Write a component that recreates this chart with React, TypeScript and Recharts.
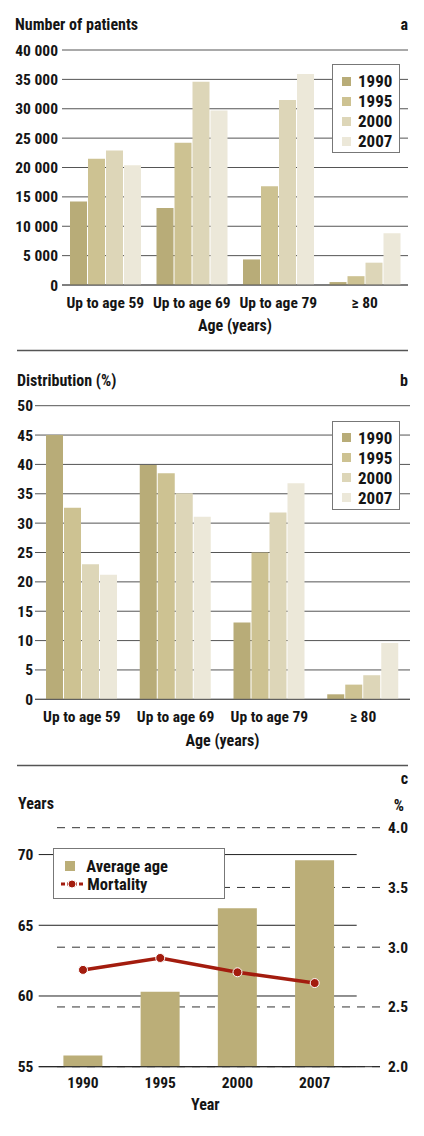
import React from 'react'
import {
  BarChart, Bar, ComposedChart, Line, XAxis, YAxis, CartesianGrid, Legend,
} from 'recharts'

// panel a/b categories
const ageGroups = ['Up to age 59', 'Up to age 69', 'Up to age 79', '≥ 80']
const years = ['1990', '1995', '2000', '2007']
const yearColors = ['#b8ac78', '#cdc292', '#ddd6b8', '#ece8d9']

// a: number of patients
const patients1990 = [14200, 13100, 4350, 500]
const patients1995 = [21500, 24200, 16800, 1500]
const patients2000 = [22900, 34600, 31500, 3800]
const patients2007 = [20400, 29700, 35900, 8800]
const patientTicks = [0, 5000, 10000, 15000, 20000, 25000, 30000, 35000, 40000]

// b: distribution (%)
const dist1990 = [45.0, 39.9, 13.1, 0.85]
const dist1995 = [32.6, 38.5, 25.0, 2.5]
const dist2000 = [23.0, 35.1, 31.8, 4.1]
const dist2007 = [21.2, 31.1, 36.8, 9.6]
const distTicks = [0, 5, 10, 15, 20, 25, 30, 35, 40, 45, 50]

// c: average age + mortality
const cYears = ['1990', '1995', '2000', '2007']
const avgAge = [55.8, 60.3, 66.2, 69.6]
const mortality = [2.81, 2.91, 2.79, 2.70]
const ageTicks = [55, 60, 65, 70]
const mortTicks = [2.0, 2.5, 3.0, 3.5, 4.0]

const FONT = "'Liberation Sans Narrow', 'Arial Narrow', 'Roboto Condensed', 'DejaVu Sans Condensed', sans-serif"
const INK = '#151515'
const GRID = '#555'
const BAR_C = '#bbae78'
const RED = '#a31c0e'

const patientsData = ageGroups.map((g, i) => ({
  group: g, y1990: patients1990[i], y1995: patients1995[i], y2000: patients2000[i], y2007: patients2007[i],
}))
const distData = ageGroups.map((g, i) => ({
  group: g, y1990: dist1990[i], y1995: dist1995[i], y2000: dist2000[i], y2007: dist2007[i],
}))
const ageData = cYears.map((y, i) => ({ year: y, age: avgAge[i], mort: mortality[i] }))

const tick = { fontSize: 15.5, fill: INK, fontWeight: 700, fontFamily: FONT }
const fmtThousands = (v: number) => v >= 1000 ? `${Math.floor(v / 1000)} ${String(v % 1000).padStart(3, '0')}` : String(v)

function YearLegend() {
  return (
    <div style={{
      width: 68, height: 89, boxSizing: 'border-box', border: '1px solid #777', background: '#fff',
      paddingTop: 6, fontFamily: FONT, fontWeight: 700, fontSize: 17, color: INK,
    }}>
      {years.map((y, i) => (
        <div key={y} style={{ display: 'flex', alignItems: 'center', height: 20 }}>
          <span style={{ width: 9, height: 9, marginLeft: 9, background: yearColors[i] }} />
          <span style={{ marginLeft: 7, lineHeight: '20px' }}>{y}</span>
        </div>
      ))}
    </div>
  )
}

function AgeLegend() {
  return (
    <div style={{
      width: 172, height: 51, boxSizing: 'border-box', border: '1px solid #777', background: '#fff',
      paddingTop: 8, fontFamily: FONT, fontWeight: 700, fontSize: 16.5, color: INK,
    }}>
      <div style={{ display: 'flex', alignItems: 'center', height: 18 }}>
        <span style={{ width: 10, height: 10, marginLeft: 11, background: BAR_C }} />
        <span style={{ marginLeft: 11 }}>Average age</span>
      </div>
      <div style={{ display: 'flex', alignItems: 'center', height: 18 }}>
        <svg width={22} height={10} style={{ marginLeft: 7 }}>
          <line x1={0} y1={5} x2={22} y2={5} stroke={RED} strokeWidth={3} strokeDasharray="4 2" />
          <circle cx={11} cy={5} r={4} fill={RED} stroke="#fff" strokeWidth={1} />
        </svg>
        <span style={{ marginLeft: 4 }}>Mortality</span>
      </div>
    </div>
  )
}

function YearBars() {
  return years.map((y, i) => (
    <Bar key={y} dataKey={`y${y}`} fill={yearColors[i]} barSize={17} isAnimationActive={false} />
  ))
}

export default function App() {
  return (
    <div style={{ position: 'relative', width: 424, height: 1136, background: '#fff', fontFamily: FONT }}>
      <style>{'body{margin:0}'}</style>

      <svg width={424} height={1136} style={{ position: 'absolute', left: 0, top: 0 }}>
        <g fontFamily={FONT} fontWeight={700} fill={INK}>
          <text x={15} y={29.5} fontSize={16}>Number of patients</text>
          <text x={408} y={29.5} fontSize={16} textAnchor="end">a</text>
          <text x={17} y={386} fontSize={16}>Distribution (%)</text>
          <text x={408} y={386} fontSize={16} textAnchor="end">b</text>
          <text x={408} y={784} fontSize={16} textAnchor="end">c</text>
          <text x={18} y={808.5} fontSize={16}>Years</text>
          <text x={404} y={810.5} fontSize={16} textAnchor="end">%</text>
        </g>
        <line x1={17} x2={408} y1={350.5} y2={350.5} stroke={GRID} strokeWidth={1.3} />
        <line x1={17} x2={408} y1={765.5} y2={765.5} stroke={GRID} strokeWidth={1.3} />
      </svg>

      {/* a */}
      <div style={{ position: 'absolute', left: 0, top: 0 }}>
        <BarChart width={424} height={345} data={patientsData} barGap={1}
          margin={{ top: 50, right: 16, left: 0, bottom: 0 }}>
          <CartesianGrid vertical={false} stroke={GRID} />
          <XAxis dataKey="group" height={60} tickLine={false} tickSize={0} tickMargin={12}
            axisLine={{ stroke: GRID }} tick={tick} interval={0}
            label={{ value: 'Age (years)', position: 'insideBottom', offset: 14, style: { ...tick, fontSize: 16 } }} />
          <YAxis width={62} domain={[0, 40000]} ticks={patientTicks} tickFormatter={fmtThousands}
            axisLine={false} tickLine={false} tickSize={0} tickMargin={4} tick={tick} />
          {YearBars()}
          <Legend layout="vertical" align="center" verticalAlign="middle"
            wrapperStyle={{ left: 332, top: 64, width: 68 }} content={() => <YearLegend />} />
        </BarChart>
      </div>

      {/* b */}
      <div style={{ position: 'absolute', left: 0, top: 360 }}>
        <BarChart width={424} height={400} data={distData} barGap={1}
          margin={{ top: 45.7, right: 14, left: 0, bottom: 0 }}>
          <CartesianGrid vertical={false} stroke={GRID} />
          <XAxis dataKey="group" height={60.7} tickLine={false} tickSize={0} tickMargin={12}
            axisLine={{ stroke: GRID }} tick={tick} interval={0}
            label={{ value: 'Age (years)', position: 'insideBottom', offset: 14, style: { ...tick, fontSize: 16 } }} />
          <YAxis width={35} domain={[0, 50]} ticks={distTicks}
            axisLine={false} tickLine={false} tickSize={0} tickMargin={2} tick={tick} />
          {YearBars()}
          <Legend layout="vertical" align="center" verticalAlign="middle"
            wrapperStyle={{ left: 332, top: 60.7, width: 68 }} content={() => <YearLegend />} />
        </BarChart>
      </div>

      {/* c */}
      <div style={{ position: 'absolute', left: 0, top: 765 }}>
        <ComposedChart width={424} height={371} data={ageData}
          margin={{ top: 62.7, right: 0, left: 0, bottom: 19.3 }}>
          <CartesianGrid vertical={false} yAxisId="left" syncWithTicks
            horizontal={(p: any) => (
              <line key={p.key ?? p.index} x1={p.x1} x2={p.x2 - 23.3} y1={p.y1} y2={p.y2} stroke="#222" strokeWidth={1} />
            )} />
          <CartesianGrid vertical={false} yAxisId="right" syncWithTicks
            horizontal={(p: any) => (
              <line key={p.key ?? p.index} x1={p.x1 + 18.3} x2={p.x2} y1={p.y1} y2={p.y2} stroke="#333" strokeWidth={1} strokeDasharray="8 7" />
            )} />
          <XAxis dataKey="year" height={50} padding={{ left: 5.7, right: 26.7 }}
            tickLine={false} tickSize={0} tickMargin={10} axisLine={{ stroke: '#222' }} tick={tick}
            label={{ value: 'Year', position: 'insideBottom', offset: 7, dx: -4, style: { ...tick, fontSize: 16 } }} />
          <YAxis yAxisId="left" width={38.7} domain={[55, 71.9]} ticks={ageTicks}
            axisLine={false} tickLine={false} tickSize={0} tickMargin={5.4} tick={tick} />
          <YAxis yAxisId="right" orientation="right" width={44} domain={[2, 4]} ticks={mortTicks}
            tickFormatter={(v: number) => v.toFixed(1)}
            axisLine={false} tickLine={false} tickSize={0} tickMargin={8} tick={{ ...tick, textAnchor: 'start' }} />
          <Bar yAxisId="left" dataKey="age" fill={BAR_C} barSize={39} isAnimationActive={false} />
          <Line yAxisId="right" dataKey="mort" stroke={RED} strokeWidth={3.5}
            dot={{ r: 4.5, fill: RED, stroke: '#fff', strokeWidth: 1 }} isAnimationActive={false} />
          <Legend layout="vertical" align="center" verticalAlign="middle"
            wrapperStyle={{ left: 53.3, top: 83.3, width: 172 }} content={() => <AgeLegend />} />
        </ComposedChart>
      </div>
    </div>
  )
}
